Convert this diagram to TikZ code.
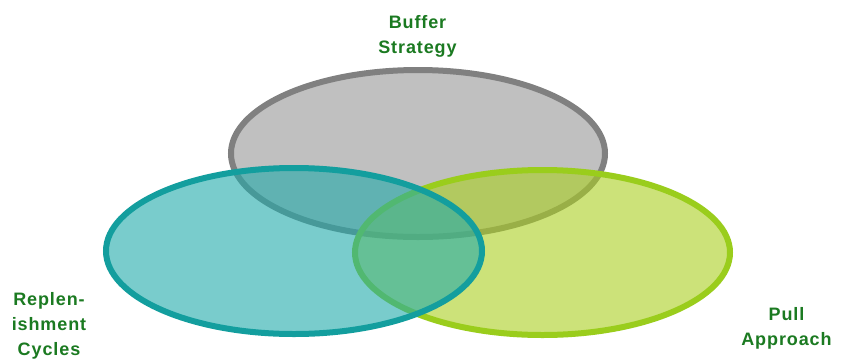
\documentclass[tikz,border=0pt]{standalone}
\usepackage{fontspec}
\newfontfamily\labelfont[LetterSpace=5]{Liberation Sans}
\definecolor{labelgreen}{RGB}{27,122,33}
\definecolor{grayline}{RGB}{128,128,128}
\definecolor{grayfill}{RGB}{192,192,192}
\definecolor{tealline}{RGB}{19,158,158}
\definecolor{tealfill}{RGB}{33,170,170}
\definecolor{greenline}{RGB}{154,205,28}
\definecolor{greenfill}{RGB}{170,207,33}
\begin{document}
\begin{tikzpicture}[x=1pt,y=-1pt,
  venn/.style={line width=6pt},
  setlabel/.style={font=\labelfont\bfseries\fontsize{18}{25}\selectfont,
    text=labelgreen, align=center, inner sep=0pt, anchor=base}]
  \useasboundingbox[fill=white] (0,0) rectangle (841,360);

  % buffer circle (bottom layer)
  \draw[venn, draw=grayline, fill=grayfill] (418,153.5) ellipse [x radius=187, y radius=83.5];
  % pull circle
  \draw[venn, draw=greenline, fill=greenfill, fill opacity=0.6] (542.5,252.5) ellipse [x radius=187.5, y radius=82.5];
  % replenishment circle (top layer)
  \draw[venn, draw=tealline, fill=tealfill, fill opacity=0.6] (294,251) ellipse [x radius=188, y radius=83];

  % labels, placed by the baseline of their last line
  \node[setlabel] (buffer) at (417.5,53) {Buffer\\Strategy};
  \node[setlabel] (replen) at (49,355) {Replen-\\ishment\\Cycles};
  \node[setlabel] (pull) at (786.5,345) {Pull\\Approach};
\end{tikzpicture}
\end{document}
